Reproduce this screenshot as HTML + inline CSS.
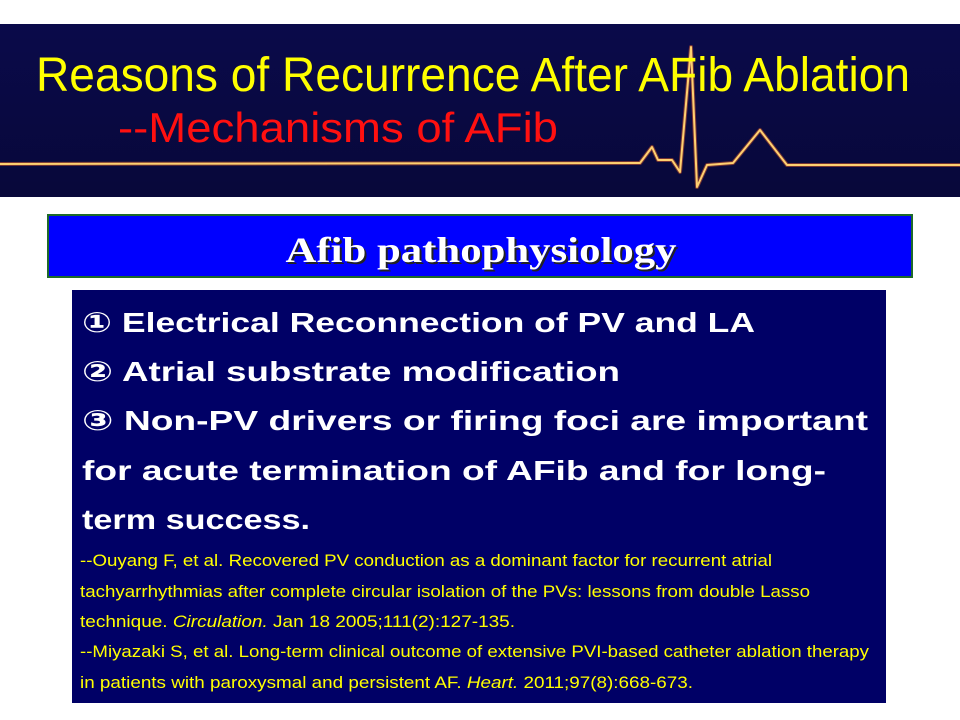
<!DOCTYPE html>
<html><head><meta charset="utf-8"><style>html,body{margin:0;padding:0;background:#fff;}svg{display:block}</style></head>
<body>
<svg width="960" height="720" viewBox="0 0 960 720" xmlns="http://www.w3.org/2000/svg">
<defs>
<linearGradient id="hb" x1="0" y1="0" x2="0" y2="1"><stop offset="0" stop-color="#0a0a4a"/><stop offset="1" stop-color="#08083a"/></linearGradient>
</defs>
<rect x="0" y="0" width="960" height="720" fill="#fff"/>
<rect x="0" y="24" width="960" height="173" fill="url(#hb)"/>
<polyline fill="none" stroke="#e0602a" stroke-width="4" stroke-opacity="0.5" stroke-linejoin="round" points="0,164 640,163 652,147 658,160 672,160 680,172 691,47 697,187 707,165 733,163 760,130 787,165 960,165"/>
<polyline fill="none" stroke="#ffd070" stroke-width="2" stroke-linejoin="round" points="0,164 640,163 652,147 658,160 672,160 680,172 691,47 697,187 707,165 733,163 760,130 787,165 960,165"/>
<text x="36" y="91" font-family="Liberation Sans, sans-serif" font-size="48" fill="#ffff00" textLength="874" lengthAdjust="spacingAndGlyphs">Reasons of Recurrence After AFib Ablation</text>
<text x="118" y="142" font-family="Liberation Sans, sans-serif" font-size="42" fill="#ff1010" textLength="440" lengthAdjust="spacingAndGlyphs">--Mechanisms of AFib</text>
<rect x="48" y="215" width="864" height="62" fill="#0000ff" stroke="#1e6a2a" stroke-width="2"/>
<text x="483" y="264" text-anchor="middle" font-family="Liberation Serif, serif" font-weight="bold" font-size="36" fill="#222" textLength="391" lengthAdjust="spacingAndGlyphs">Afib pathophysiology</text>
<text x="481" y="262" text-anchor="middle" font-family="Liberation Serif, serif" font-weight="bold" font-size="36" fill="#fff" textLength="391" lengthAdjust="spacingAndGlyphs">Afib pathophysiology</text>
<rect x="72" y="290" width="814" height="413" fill="#000066"/>
<g font-family="Liberation Sans, 'DejaVu Sans', sans-serif" font-weight="bold" font-size="28" fill="#fff">
<text x="82" y="332" textLength="673" lengthAdjust="spacingAndGlyphs">① Electrical Reconnection of PV and LA</text>
<text x="82" y="381" textLength="538" lengthAdjust="spacingAndGlyphs">② Atrial substrate modification</text>
<text x="82" y="430" textLength="786" lengthAdjust="spacingAndGlyphs">③ Non-PV drivers or firing foci are important</text>
<text x="82" y="480" textLength="744" lengthAdjust="spacingAndGlyphs">for acute termination of AFib and for long-</text>
<text x="82" y="529" textLength="228" lengthAdjust="spacingAndGlyphs">term success.</text>
</g>
<g font-family="Liberation Sans, sans-serif" font-size="17" fill="#ffff00">
<text x="80" y="566" textLength="692" lengthAdjust="spacingAndGlyphs">--Ouyang F, et al. Recovered PV conduction as a dominant factor for recurrent atrial</text>
<text x="80" y="597" textLength="730" lengthAdjust="spacingAndGlyphs">tachyarrhythmias after complete circular isolation of the PVs: lessons from double Lasso</text>
<text x="80" y="627" textLength="435" lengthAdjust="spacingAndGlyphs">technique. <tspan font-style="italic">Circulation.</tspan> Jan 18 2005;111(2):127-135.</text>
<text x="80" y="657" textLength="789" lengthAdjust="spacingAndGlyphs">--Miyazaki S, et al. Long-term clinical outcome of extensive PVI-based catheter ablation therapy</text>
<text x="80" y="688" textLength="613" lengthAdjust="spacingAndGlyphs">in patients with paroxysmal and persistent AF. <tspan font-style="italic">Heart.</tspan> 2011;97(8):668-673.</text>
</g>
</svg>
</body></html>
